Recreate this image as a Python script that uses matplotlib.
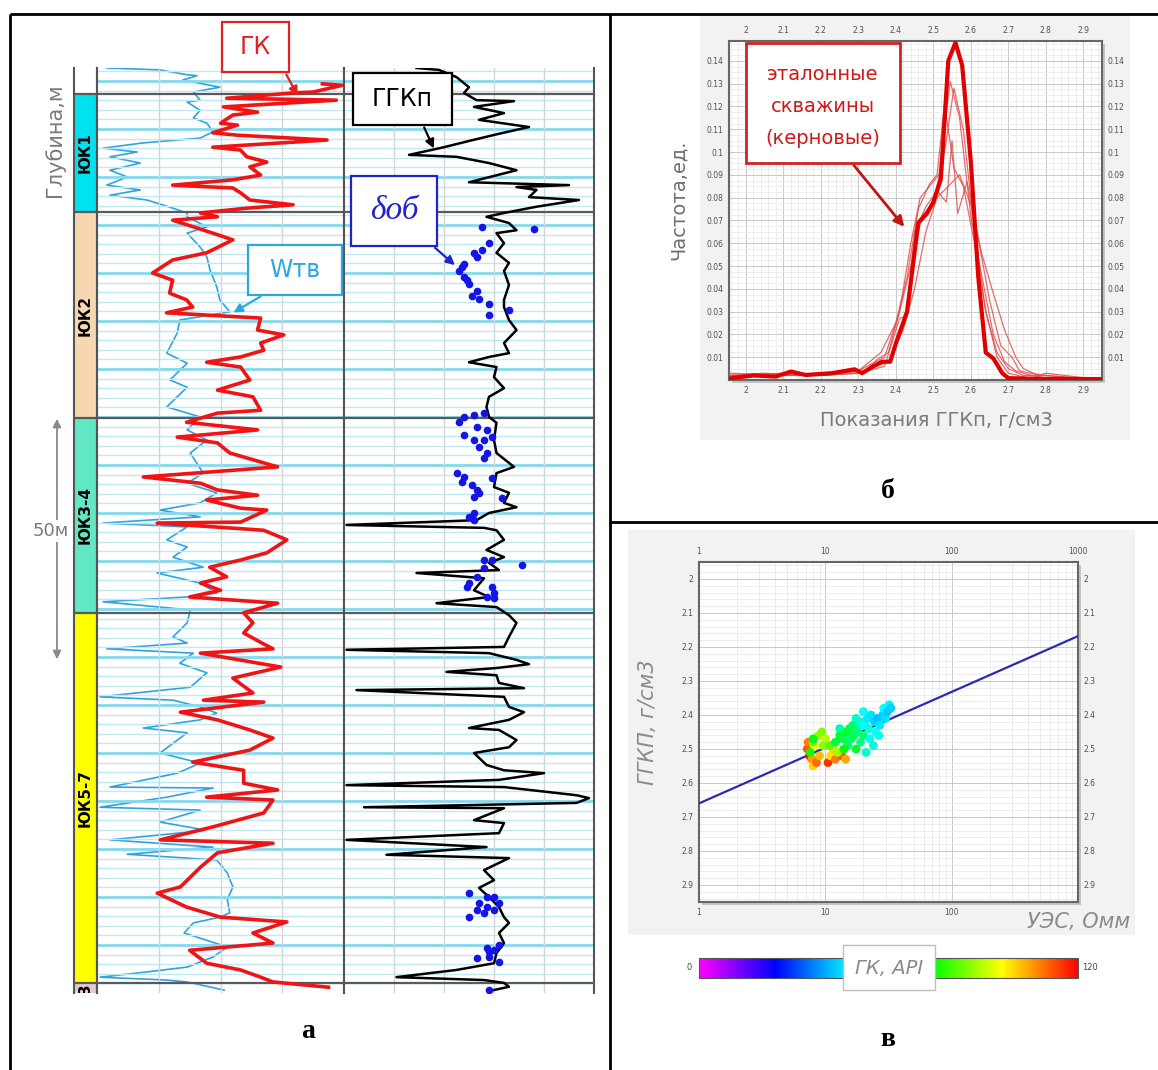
import numpy as np
import matplotlib
matplotlib.use('Agg')
import matplotlib.pyplot as plt
from matplotlib.colors import LinearSegmentedColormap
from matplotlib.patches import Rectangle
from matplotlib.ticker import FixedLocator, MultipleLocator, LogLocator, NullFormatter, FuncFormatter

# ---------------- каротаж (глубина от верха планшета, м) ----------------
zone_names = ['ЮК1', 'ЮК2', 'ЮК3-4', 'ЮК5-7', '3']
zone_top = [5.4, 30.0, 72.9, 113.5, 190.6]
zone_bot = [30.0, 72.9, 113.5, 190.6, 192.7]

# ГК, API (глубина, значение)
gk_log = np.array([
    (3.3, 146), (3.6, 159), (5.0, 140), (5.2, 127), (6.3, 84), (6.7, 155), (8.1, 82), (9.2, 104),
    (9.8, 88), (11.5, 80), (11.9, 91), (13.5, 75), (14.0, 91), (15.0, 149), (16.5, 75), (17.1, 93),
    (18.5, 97), (19.6, 110), (20.6, 99), (22.3, 106), (23.3, 88), (24.4, 49), (25.0, 88), (26.0, 93),
    (27.5, 99), (28.5, 127), (29.2, 97), (30.2, 67), (31.0, 78), (31.7, 49), (34.4, 75), (35.8, 88),
    (38.5, 71), (40.0, 49), (42.7, 36), (44.2, 49), (46.9, 47), (48.3, 58), (49.8, 62), (51.0, 45),
    (52.1, 106), (54.6, 104), (55.6, 121), (57.3, 106), (58.8, 108), (60.2, 93), (61.3, 71), (62.3, 93),
    (65.0, 99), (67.1, 78), (68.5, 101), (71.3, 106), (71.9, 78), (73.8, 58), (75.4, 104), (76.9, 52),
    (78.1, 78), (80.2, 86), (83.1, 117), (85.2, 30), (86.5, 67), (87.9, 78), (89.0, 104), (90.0, 71),
    (91.7, 93), (92.1, 110), (94.6, 93), (94.8, 39), (96.3, 108), (98.3, 123), (101.0, 110), (102.5, 93),
    (104.0, 73), (106.0, 84), (107.3, 67), (108.8, 80), (110.2, 60), (111.5, 117), (113.5, 95), (115.6, 101),
    (117.7, 95), (120.0, 108), (121.0, 114), (121.9, 67), (124.8, 119), (127.1, 88), (130.2, 101), (131.7, 69),
    (132.1, 108), (134.2, 54), (135.8, 78), (137.9, 99), (139.6, 114), (142.1, 99), (144.6, 62), (146.3, 95),
    (149.0, 95), (150.4, 117), (151.9, 71), (152.5, 114), (155.2, 108), (158.1, 75), (160.8, 41), (161.5, 114),
    (163.5, 78), (166.5, 67), (170.6, 54), (171.9, 39), (174.8, 58), (176.9, 80), (177.9, 123), (180.2, 101),
    (182.3, 114), (183.8, 60), (186.5, 71), (187.9, 93), (189.4, 106), (190.4, 114), (191.5, 150),
])

# Wтв, %
w_log = np.array([
    (0.0, 1.6), (0.4, 10.2), (1.4, 14.6), (1.6, 16.2), (2.5, 13.9), (4.0, 19.9), (5.0, 15.6), (6.7, 16.7),
    (7.1, 14.6), (8.8, 16.7), (10.4, 15.6), (11.5, 17.8), (13.3, 18.8), (14.6, 16.7), (15.6, 7.5), (16.7, 1.0),
    (17.5, 6.5), (18.5, 2.1), (19.8, 7.0), (21.3, 2.1), (22.7, 4.9), (24.4, 1.6), (25.4, 7.0), (26.5, 2.1),
    (27.5, 8.1), (29.0, 11.8), (30.2, 14.6), (31.0, 14.6), (33.1, 17.8), (34.4, 14.6), (37.3, 16.7), (39.4, 17.8),
    (42.1, 18.3), (45.6, 19.4), (48.3, 19.9), (50.8, 21.5), (52.5, 13.4), (55.2, 13.0), (59.4, 11.3), (61.5, 14.6),
    (65.0, 11.8), (66.5, 14.6), (70.6, 11.3), (72.7, 16.7), (75.4, 14.6), (77.5, 17.8), (80.2, 15.1), (84.4, 17.2),
    (86.5, 14.6), (88.5, 19.4), (90.6, 16.7), (92.1, 10.2), (93.5, 16.7), (94.8, 1.0), (95.6, 14.6), (98.3, 11.3),
    (99.8, 14.6), (101.9, 12.3), (104.0, 17.2), (105.2, 9.7), (107.3, 16.7), (109.4, 19.4), (110.2, 14.6), (111.2, 1.0),
    (112.9, 15.1), (115.6, 14.6), (118.5, 12.3), (119.8, 14.6), (121.0, 1.6), (121.9, 15.6), (124.0, 13.4), (126.0, 17.8),
    (129.0, 15.1), (131.0, 0.5), (131.7, 12.3), (133.1, 16.7), (134.4, 19.4), (135.8, 16.7), (137.5, 7.5), (138.5, 14.6),
    (142.7, 10.2), (144.8, 16.7), (146.9, 13.0), (149.8, 2.1), (150.0, 18.8), (151.9, 11.3), (154.0, 0.5), (154.6, 16.7),
    (157.1, 10.2), (158.8, 17.8), (160.8, 2.1), (162.3, 18.8), (163.8, 4.9), (165.0, 19.4), (167.7, 21.1), (170.6, 22.0),
    (173.3, 21.1), (176.0, 21.5), (176.9, 19.9), (178.1, 15.6), (180.2, 14.1), (183.1, 21.1), (185.2, 18.8), (187.3, 14.6),
    (188.4, 7.5), (189.4, 0.5), (190.0, 11.3), (190.4, 14.6), (192.1, 20.6),
])

# ГГКп, г/см3
ggk_log = np.array([
    (0.0, 2.19), (0.4, 2.28), (1.9, 2.35), (4.0, 2.40), (5.2, 2.38), (6.7, 2.43), (6.9, 2.58), (8.1, 2.42),
    (9.4, 2.54), (10.8, 2.44), (12.3, 2.64), (13.7, 2.52), (15.2, 2.40), (16.5, 2.30), (18.1, 2.16), (18.5, 2.35),
    (19.8, 2.48), (21.3, 2.59), (23.8, 2.40), (24.4, 2.80), (24.8, 2.59), (25.4, 2.67), (26.9, 2.64), (27.5, 2.84),
    (28.9, 2.67), (30.2, 2.54), (31.0, 2.47), (32.3, 2.56), (33.8, 2.59), (34.4, 2.51), (36.5, 2.54), (38.5, 2.51),
    (40.6, 2.56), (42.3, 2.54), (45.2, 2.56), (48.3, 2.54), (49.8, 2.54), (52.5, 2.56), (54.6, 2.59), (57.3, 2.54),
    (59.4, 2.56), (60.2, 2.48), (61.3, 2.40), (62.3, 2.51), (64.4, 2.50), (66.7, 2.54), (68.5, 2.48), (70.6, 2.47),
    (72.7, 2.48), (73.9, 2.51), (77.5, 2.50), (80.2, 2.51), (83.1, 2.58), (84.4, 2.51), (87.3, 2.50), (88.5, 2.56),
    (90.6, 2.54), (91.5, 2.59), (92.7, 2.48), (94.2, 2.43), (95.2, 1.91), (95.8, 2.46), (96.3, 2.51), (98.3, 2.54),
    (100.4, 2.47), (101.9, 2.54), (103.1, 2.48), (104.6, 2.52), (105.2, 2.19), (106.3, 2.46), (108.8, 2.42), (110.2, 2.48),
    (111.5, 2.27), (112.3, 2.51), (114.0, 2.56), (115.6, 2.59), (118.5, 2.56), (120.6, 2.54), (121.2, 1.91), (121.9, 2.48),
    (123.3, 2.59), (124.2, 2.64), (125.0, 2.51), (125.8, 2.31), (126.5, 2.51), (128.1, 2.52), (129.2, 2.62), (129.6, 1.95),
    (131.0, 2.54), (133.1, 2.56), (134.2, 2.62), (135.8, 2.56), (137.5, 2.40), (137.9, 2.52), (140.0, 2.59), (141.5, 2.56),
    (142.7, 2.42), (145.2, 2.47), (146.3, 2.54), (146.9, 2.70), (148.3, 2.52), (149.4, 1.91), (149.8, 2.54), (151.5, 2.83),
    (152.1, 2.88), (153.1, 2.83), (154.0, 1.98), (154.2, 2.54), (156.7, 2.42), (157.3, 2.54), (159.4, 2.52), (160.8, 1.91),
    (162.3, 2.47), (163.9, 2.07), (164.6, 2.56), (167.1, 2.46), (169.2, 2.50), (170.8, 2.44), (172.7, 2.48), (174.8, 2.52),
    (176.9, 2.54), (178.1, 2.56), (180.2, 2.52), (182.3, 2.54), (184.4, 2.51), (186.5, 2.50), (187.9, 2.35), (189.4, 2.11),
    (190.0, 2.46), (190.6, 2.54), (191.4, 2.56), (192.3, 2.48),
])

# объёмная плотность по керну, г/см3
dob_core = np.array([
    (33.1, 2.45), (33.5, 2.66), (36.5, 2.48), (37.9, 2.45), (38.5, 2.42), (39.4, 2.43), (40.8, 2.38), (41.5, 2.37),
    (42.3, 2.36), (43.5, 2.38), (44.2, 2.39), (45.0, 2.40), (46.5, 2.43), (47.5, 2.41), (48.1, 2.44), (49.2, 2.48),
    (50.4, 2.56), (51.5, 2.48),
    (71.9, 2.46), (72.3, 2.42), (72.7, 2.38), (73.8, 2.36), (74.8, 2.43), (75.4, 2.47), (76.5, 2.38), (76.9, 2.49),
    (77.5, 2.42), (77.5, 2.46), (79.0, 2.44), (80.2, 2.47), (81.3, 2.46), (84.4, 2.35), (85.2, 2.38), (85.4, 2.49),
    (86.3, 2.37), (86.9, 2.41), (87.9, 2.43), (88.5, 2.44), (89.4, 2.42), (89.6, 2.53), (92.7, 2.42), (93.5, 2.40),
    (94.2, 2.42),
    (102.5, 2.46), (102.5, 2.49), (103.5, 2.61), (104.2, 2.46), (106.0, 2.43), (107.3, 2.40), (108.1, 2.39),
    (108.1, 2.49), (109.4, 2.50), (110.2, 2.47), (110.4, 2.50),
    (171.9, 2.40), (172.7, 2.47), (172.7, 2.50), (174.0, 2.44), (174.0, 2.52), (174.8, 2.47), (175.4, 2.43),
    (175.4, 2.50), (176.0, 2.46), (176.9, 2.40),
    (182.7, 2.52), (183.3, 2.47), (183.8, 2.50), (184.2, 2.48), (185.2, 2.48), (185.4, 2.43), (186.3, 2.52),
    (192.1, 2.48),
])

# ---------------- распределения ГГКп по эталонным скважинам ----------------
hist_main_x = [1.957, 2.02, 2.08, 2.12, 2.16, 2.23, 2.29, 2.31, 2.34, 2.363, 2.385, 2.40, 2.43, 2.46,
               2.483, 2.50, 2.52, 2.54, 2.559, 2.577, 2.60, 2.62, 2.64, 2.66, 2.684, 2.70, 2.795, 2.947]
hist_main_y = [0.0007, 0.002, 0.0015, 0.0037, 0.0022, 0.003, 0.0047, 0.003, 0.006, 0.008, 0.008, 0.016, 0.030, 0.069,
               0.073, 0.078, 0.088, 0.140, 0.148, 0.138, 0.096, 0.045, 0.012, 0.0095, 0.003, 0.0008, 0.0005, 0.0004]
hist_wells = [
    ([1.955, 2.05, 2.15, 2.25, 2.32, 2.35, 2.38, 2.41, 2.44, 2.465, 2.49, 2.515, 2.545, 2.57, 2.60, 2.63, 2.66, 2.69, 2.72, 2.76, 2.80, 2.95],
     [0.002, 0.003, 0.002, 0.003, 0.004, 0.009, 0.012, 0.030, 0.060, 0.080, 0.085, 0.090, 0.131, 0.115, 0.072, 0.045, 0.020, 0.008, 0.004, 0.002, 0.001, 0.0]),
    ([1.955, 2.1, 2.2, 2.3, 2.36, 2.40, 2.43, 2.46, 2.49, 2.51, 2.53, 2.555, 2.58, 2.61, 2.64, 2.67, 2.70, 2.74, 2.80, 2.95],
     [0.003, 0.002, 0.003, 0.004, 0.012, 0.025, 0.045, 0.075, 0.086, 0.090, 0.121, 0.093, 0.085, 0.060, 0.030, 0.012, 0.005, 0.002, 0.002, 0.0]),
    ([1.955, 2.1, 2.2, 2.3, 2.37, 2.41, 2.43, 2.45, 2.48, 2.51, 2.535, 2.55, 2.565, 2.59, 2.62, 2.65, 2.68, 2.71, 2.73, 2.76, 2.80, 2.95],
     [0.001, 0.002, 0.002, 0.003, 0.006, 0.027, 0.028, 0.065, 0.076, 0.083, 0.078, 0.105, 0.073, 0.087, 0.062, 0.035, 0.015, 0.010, 0.004, 0.003, 0.002, 0.0]),
    ([1.955, 2.1, 2.2, 2.3, 2.38, 2.42, 2.45, 2.48, 2.51, 2.54, 2.57, 2.60, 2.63, 2.66, 2.69, 2.72, 2.74, 2.78, 2.80, 2.95],
     [0.002, 0.002, 0.002, 0.003, 0.008, 0.022, 0.040, 0.065, 0.080, 0.085, 0.090, 0.077, 0.055, 0.038, 0.022, 0.010, 0.005, 0.002, 0.003, 0.0]),
    ([1.955, 2.1, 2.2, 2.3, 2.37, 2.41, 2.44, 2.47, 2.50, 2.53, 2.555, 2.58, 2.61, 2.64, 2.67, 2.70, 2.75, 2.95],
     [0.002, 0.003, 0.002, 0.004, 0.010, 0.030, 0.050, 0.072, 0.078, 0.100, 0.128, 0.110, 0.065, 0.030, 0.010, 0.003, 0.001, 0.0]),
]

# ---------------- кросс-плот УЭС - ГГКп, цвет по ГК ----------------
res_ohmm = [7.2, 7.5, 7.8, 8.0, 8.5, 7.3, 9.0, 10.5, 11.0, 12.0, 13.5, 14.5, 11.5, 8.2,
            8.8, 9.4, 10.0, 9.6, 8.0, 10.8, 12.5,
            12.0, 13.0, 13.8, 14.5, 15.0, 15.5, 16.0, 16.8, 17.5, 18.0, 14.0, 19.0, 16.5, 20.0, 8.0, 7.6, 13.0, 18.5,
            19.0, 20.5, 21.5, 22.0, 23.0, 24.5, 25.0, 26.0, 27.0, 28.5, 29.0, 30.0, 31.0, 32.0, 33.0, 22.5, 24.0, 21.0,
            26.5, 20.0, 17.5]
rho_ggk = [2.50, 2.52, 2.53, 2.55, 2.54, 2.48, 2.52, 2.54, 2.52, 2.53, 2.52, 2.53, 2.50, 2.49,
           2.46, 2.45, 2.47, 2.49, 2.48, 2.49, 2.51,
           2.48, 2.46, 2.47, 2.45, 2.49, 2.44, 2.47, 2.46, 2.50, 2.45, 2.50, 2.48, 2.43, 2.46, 2.47, 2.51, 2.44, 2.43,
           2.42, 2.43, 2.41, 2.44, 2.40, 2.42, 2.45, 2.41, 2.43, 2.40, 2.38, 2.41, 2.39, 2.37, 2.38, 2.47, 2.49, 2.51,
           2.46, 2.39, 2.41]
gk_api = [112, 118, 105, 100, 110, 108, 102, 115, 98, 108, 112, 104, 100, 95,
          88, 85, 90, 86, 84, 82, 88,
          68, 72, 66, 70, 64, 68, 62, 66, 70, 63, 74, 60, 65, 62, 72, 75, 58, 57,
          50, 48, 46, 52, 45, 44, 48, 42, 46, 44, 48, 45, 43, 47, 44, 50, 52, 53,
          50, 49, 54]
reg_res = [1, 1000]
reg_rho = [2.66, 2.168]

# ---------------- оформление ----------------
W, H = 1158, 1070
fig = plt.figure(figsize=(W / 100, H / 100), dpi=100)


def px_axes(x0, y0, x1, y1, **kw):
    return fig.add_axes([x0 / W, 1 - y1 / H, (x1 - x0) / W, (y1 - y0) / H], **kw)


def canvas(z):
    ax = px_axes(0, 0, W, H, zorder=z)
    ax.set_xlim(0, W)
    ax.set_ylim(H, 0)
    ax.axis('off')
    return ax


back = canvas(-5)
grey = '#7a7a7a'

# серые подложки скриншотов
back.add_patch(Rectangle((700, 15), 430, 425, color='#f2f2f2', lw=0))
back.add_patch(Rectangle((628, 530), 507, 405, color='#f2f2f2', lw=0))
back.add_patch(Rectangle((732, 44), 373, 339, color='#c4c4c4', lw=0))
back.add_patch(Rectangle((702, 565), 379, 340, color='#c4c4c4', lw=0))

# ---- а: планшет ----
depth_max = 192.7
zone_colors = ['#00e1ef', '#f6d7b2', '#62e7c4', '#ffff00', '#e7c7d2']

zax = px_axes(74, 68, 97, 993)
tr1 = px_axes(97, 68, 344, 993)
tr2 = px_axes(344, 68, 594, 993)
for ax in (zax, tr1, tr2):
    ax.set_ylim(depth_max, 0)
    ax.set_xticks([])
    ax.set_yticks([])
    for s in ('top', 'bottom'):
        ax.spines[s].set_visible(False)
    for s in ('left', 'right'):
        ax.spines[s].set_color('#555555')
        ax.spines[s].set_linewidth(1.5)
    for zt in zone_top:
        ax.axhline(zt, color='#5a5a5a', lw=1.6, zorder=2)

zax.set_xlim(0, 1)
for name, top, bot, col in zip(zone_names, zone_top, zone_bot, zone_colors):
    zax.axhspan(top, bot, color=col, zorder=1)
    mid = (top + bot) / 2 if name != '3' else top + 1.1
    zax.text(0.5, mid, name, rotation=90, ha='center', va='center', fontsize=11,
             fontweight='bold', color='black', clip_on=True, zorder=3)

tr1.set_xlim(0, 160)
tr2.set_xlim(1.9, 2.9)
for ax, vlines in ((tr1, [40, 80, 120]), (tr2, [2.1, 2.3, 2.5, 2.7])):
    for d in np.arange(0.7, depth_max, 2):
        ax.axhline(d, color='#bfeaf4', lw=1.0, zorder=0.5)
    for d in np.arange(2.7, depth_max, 10):
        ax.axhline(d, color='#86daee', lw=2.0, zorder=0.6)
    for v in vlines:
        ax.axvline(v, color='#cfd6da', lw=1.0, zorder=0.7)

tr1w = tr1.twiny()
tr1w.set_xlim(0, 40)
tr1w.set_ylim(depth_max, 0)
tr1w.axis('off')
tr1w.plot(w_log[:, 1], w_log[:, 0], color='#2ea3df', lw=1.2, zorder=3)
tr1.plot(gk_log[:, 1], gk_log[:, 0], color='#f01414', lw=2.6, zorder=4)
tr1w.set_zorder(tr1.get_zorder() - 0.1)
tr1.patch.set_alpha(0)

tr2.plot(ggk_log[:, 1], ggk_log[:, 0], color='black', lw=1.8, zorder=3)
tr2.plot(dob_core[:, 1], dob_core[:, 0], 'o', color='#1414e6', ms=5.5, mec='none', zorder=4)

# ---- б: частотные распределения ----
axh = px_axes(729, 41, 1102, 380)
axh.set_xlim(1.955, 2.95)
axh.set_ylim(0, 0.1487)
for x, y in hist_wells:
    axh.plot(x, y, color='#e04848', lw=0.9, alpha=0.8, zorder=3)
axh.plot(hist_main_x, hist_main_y, color='#e00000', lw=3, zorder=4)
axh.xaxis.set_major_locator(FixedLocator(np.round(np.arange(2.0, 2.95, 0.1), 1)))
axh.xaxis.set_minor_locator(MultipleLocator(0.02))
axh.yaxis.set_major_locator(FixedLocator(np.round(np.arange(1, 15) * 0.01, 2)))
axh.yaxis.set_minor_locator(MultipleLocator(0.0025))
axh.xaxis.set_major_formatter(FuncFormatter(lambda v, p: f'{v:.1f}'.rstrip('0').rstrip('.')))
axh.yaxis.set_major_formatter(FuncFormatter(lambda v, p: f'{v:.2f}'.rstrip('0').rstrip('.')))

# ---- в: кросс-плот ----
axc = px_axes(699, 562, 1078, 902)
axc.set_xscale('log')
axc.set_xlim(1, 1000)
axc.set_ylim(2.95, 1.95)
axc.plot(reg_res, reg_rho, color='#2a2ab4', lw=1.6, zorder=3)
cmap = LinearSegmentedColormap.from_list('gk', [(0, '#ff00ff'), (0.2, '#0000ff'), (0.4, '#00ffff'),
                                                (0.62, '#00ff00'), (0.8, '#ffff00'), (1.0, '#ff0000')])
sc = axc.scatter(res_ohmm, rho_ggk, c=gk_api, cmap=cmap, vmin=0, vmax=120, s=40,
                 edgecolors='none', zorder=4)
axc.xaxis.set_major_locator(FixedLocator([1, 10, 100]))
axc.xaxis.set_minor_locator(LogLocator(base=10, subs=np.arange(2, 10)))
axc.xaxis.set_minor_formatter(NullFormatter())
axc.xaxis.set_major_formatter(FuncFormatter(lambda v, p: f'{v:g}'))
axc.yaxis.set_major_locator(FixedLocator(np.round(np.arange(2.0, 2.95, 0.1), 1)))
axc.yaxis.set_minor_locator(MultipleLocator(0.02))
axc.yaxis.set_major_formatter(FuncFormatter(lambda v, p: f'{v:.1f}'.rstrip('0').rstrip('.')))

for ax in (axh, axc):
    ax.grid(which='major', color='#c9c9c9', lw=0.7, zorder=0)
    ax.grid(which='minor', color='#e6e6e6', lw=0.5, zorder=0)
    ax.set_axisbelow(True)
    ax.tick_params(which='both', length=0, top=True, right=True, labeltop=True, labelright=True,
                   labelsize=5.5, colors='#505050', pad=4)
    for s in ax.spines.values():
        s.set_color('#666666')
        s.set_linewidth(1.5)

# верхняя шкала УЭС подписана до 1000, нижняя - до 100
axc.tick_params(labeltop=False)
axt = axc.twiny()
axt.set_xscale('log')
axt.set_xlim(1, 1000)
axt.xaxis.set_major_locator(FixedLocator([1, 10, 100, 1000]))
axt.xaxis.set_minor_locator(FixedLocator([]))
axt.xaxis.set_major_formatter(FuncFormatter(lambda v, p: f'{v:g}'))
axt.tick_params(length=0, labelsize=5.5, colors='#505050', pad=4)
for s in axt.spines.values():
    s.set_visible(False)

cax = px_axes(699, 958, 1078, 978)
cb = fig.colorbar(sc, cax=cax, orientation='horizontal', ticks=[])
cb.outline.set_edgecolor('#555555')
cb.outline.set_linewidth(0.8)

# ---- надписи, рамки, выноски ----
front = canvas(20)
for (x0, y0), (x1, y1) in [((10, 14), (1158, 14)), ((10, 14), (10, 1070)), ((610, 14), (610, 1070)),
                           ((610, 522), (1158, 522))]:
    front.plot([x0, x1], [y0, y1], color='black', lw=2, solid_capstyle='butt')

front.text(55, 140, 'Глубина,м', rotation=90, ha='center', va='center', fontsize=15, color=grey)
front.annotate('', xy=(57, 416), xytext=(57, 662),
               arrowprops=dict(arrowstyle='<|-|>', color='#8a8a8a', lw=1.3, mutation_scale=12))
front.text(51, 531, '50м', ha='center', va='center', fontsize=13, color=grey,
           bbox=dict(boxstyle='square,pad=0.1', fc='white', ec='none'))


def callout(x0, y0, x1, y1, text, color, tail, tip, **txt):
    front.add_patch(Rectangle((x0, y0), x1 - x0, y1 - y0, fc='white', ec=color, lw=1.6, zorder=5))
    front.text((x0 + x1) / 2, (y0 + y1) / 2, text, ha='center', va='center', color=color, zorder=6, **txt)
    front.annotate('', xy=tip, xytext=tail, zorder=6,
                   arrowprops=dict(arrowstyle='-|>', color=color, lw=1.6, mutation_scale=13))


callout(222, 22, 289, 72, 'ГК', '#e52020', (285, 72), (299, 98), fontsize=17)
callout(353, 73, 452, 125, 'ГГКп', 'black', (423, 125), (435, 151), fontsize=17)
callout(248, 245, 342, 295, 'Wтв', '#2aa8e0', (263, 295), (231, 314), fontsize=17)
callout(351, 176, 437, 246, 'δоб', '#2222cc', (433, 246), (457, 267), fontsize=24,
        family='Liberation Serif', style='italic')

front.add_patch(Rectangle((746, 43), 154, 120, fc='white', ec='#d42020', lw=2, zorder=5))
for y, line in zip([74, 106, 138], ['эталонные', 'скважины', '(керновые)']):
    front.text(823, y, line, ha='center', va='center', fontsize=14, color='#d01818', zorder=6)
front.annotate('', xy=(906, 229), xytext=(852, 163),
               arrowprops=dict(arrowstyle='-|>', color='#c01515', lw=2, mutation_scale=15))

front.text(678, 200, 'Частота,ед.', rotation=90, ha='center', va='center', fontsize=14, color='#6e6e6e')
front.text(936, 420, 'Показания ГГКп, г/см3', ha='center', va='center', fontsize=14, color='#7a7a7a')

front.text(648, 722, 'ГГКП, г/см3', rotation=90, ha='center', va='center', fontsize=15,
           style='italic', color='#8a8a8a')
front.text(1130, 922, 'УЭС, Омм', ha='right', va='center', fontsize=15, style='italic', color='#8a8a8a')
front.text(692, 968, '0', ha='right', va='center', fontsize=6, color='#444444')
front.text(1082, 968, '120', ha='left', va='center', fontsize=6, color='#444444')
front.add_patch(Rectangle((843, 945), 92, 45, fc='white', ec='#bdbdbd', lw=1, zorder=5))
front.text(889, 968, 'ГК, API', ha='center', va='center', fontsize=14, style='italic', color='#8a8a8a', zorder=6)

for x, y, s in [(308, 1032, 'а'), (888, 492, 'б'), (888, 1040, 'в')]:
    front.text(x, y, s, ha='center', va='center', fontsize=20, fontweight='bold',
               family='Liberation Serif', color='black')

fig.savefig('out.png', dpi=100)
